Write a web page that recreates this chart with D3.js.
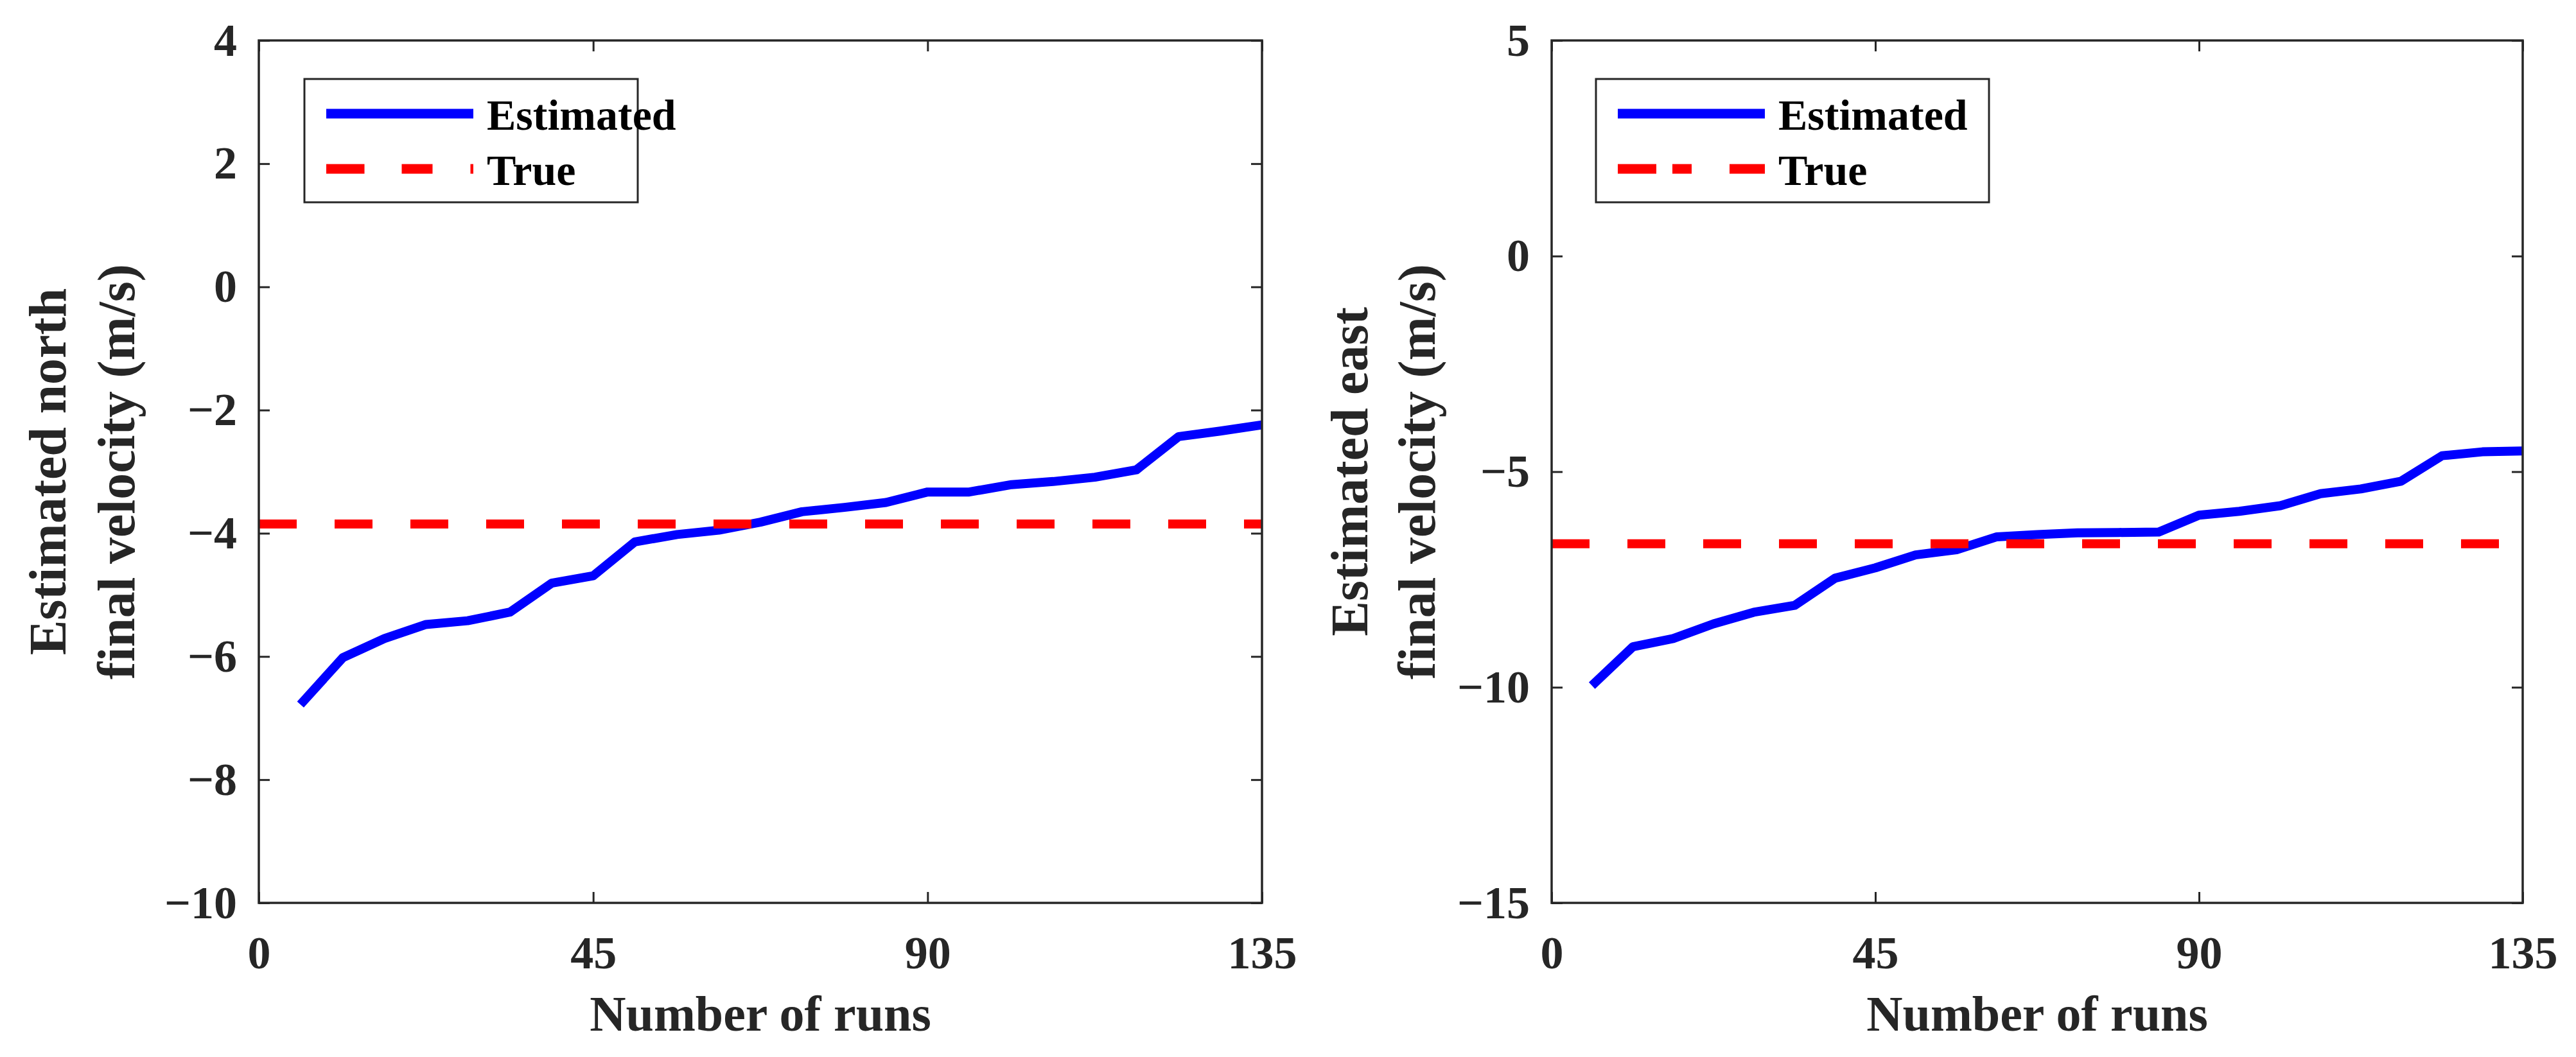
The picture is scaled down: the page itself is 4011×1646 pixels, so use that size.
<!DOCTYPE html>
<html>
<head>
<meta charset="utf-8">
<script src="https://cdn.jsdelivr.net/npm/d3@7"></script>
<style>
  html, body { margin: 0; padding: 0; background: #fff; }
  svg { display: block; }
  text { font-family: "Liberation Serif", "Times New Roman", serif; font-weight: bold; }
</style>
</head>
<body>
<svg id="chart" width="4011" height="1646"></svg>
<script>
// ---- data ----
const runs = [5.6, 11.3, 16.9, 22.5, 28.1, 33.8, 39.4, 45, 50.6, 56.3, 61.9, 67.5,
              73.1, 78.8, 84.4, 90, 95.6, 101.3, 106.9, 112.5, 118.1, 123.8, 129.4, 135];
const northEstimated = [-6.78, -6.02, -5.71, -5.48, -5.42, -5.28, -4.81, -4.69, -4.14, -4.02, -3.95, -3.82,
                        -3.65, -3.58, -3.50, -3.33, -3.33, -3.21, -3.16, -3.09, -2.97, -2.43, -2.34, -2.24];
const eastEstimated  = [-9.96, -9.06, -8.87, -8.53, -8.26, -8.10, -7.47, -7.23, -6.93, -6.81, -6.51, -6.46,
                        -6.42, -6.41, -6.40, -6.01, -5.92, -5.79, -5.51, -5.40, -5.22, -4.63, -4.54, -4.52];
const northTrue = -3.85;
const eastTrue = -6.67;
const xTicks = [0, 45, 90, 135];
const northTicks = [-10, -8, -6, -4, -2, 0, 2, 4];
const eastTicks = [-15, -10, -5, 0, 5];
const seriesNames = ["Estimated", "True"];

const svg = d3.select("#chart");
const axisColor = "#262626";
const plotTop = 63, plotBottom = 1406;

const panels = [
  { x0: 403, x1: 1965, yDomain: [-10, 4], yTicks: northTicks, est: northEstimated, truth: northTrue,
    ylabel: ["Estimated north", "final velocity (m/s)"], ylabX: [73, 180],
    legX: 474, legW: 519, legendDash: "59.5,58,48,59,5" },
  { x0: 2416, x1: 3928, yDomain: [-15, 5], yTicks: eastTicks, est: eastEstimated, truth: eastTrue,
    ylabel: ["Estimated east", "final velocity (m/s)"], ylabX: [2100, 2205],
    legX: 2485, legW: 612, legendDash: "60,25,30,59,56" }
];

panels.forEach(p => {
  const x = d3.scaleLinear().domain([0, 135]).range([p.x0, p.x1]);
  const y = d3.scaleLinear().domain(p.yDomain).range([plotBottom, plotTop]);
  const g = svg.append("g");

  const styleAxis = sel => {
    sel.select(".domain").remove();
    sel.selectAll(".tick line").attr("stroke", axisColor).attr("stroke-width", 3);
    sel.selectAll(".tick text").attr("fill", axisColor).style("font-size", "72px")
       .style("font-family", "'Liberation Serif', serif").style("font-weight", "bold");
  };
  g.append("g").attr("transform", `translate(0,${plotBottom})`)
    .call(d3.axisBottom(x).tickValues(xTicks).tickSizeInner(-17).tickSizeOuter(0).tickPadding(51))
    .call(styleAxis);
  g.append("g").attr("transform", `translate(0,${plotTop})`)
    .call(d3.axisTop(x).tickValues(xTicks).tickSizeInner(-17).tickSizeOuter(0).tickFormat(""))
    .call(styleAxis);
  g.append("g").attr("transform", `translate(${p.x0},0)`)
    .call(d3.axisLeft(y).tickValues(p.yTicks).tickSizeInner(-17).tickSizeOuter(0).tickPadding(34))
    .call(styleAxis);
  g.append("g").attr("transform", `translate(${p.x1},0)`)
    .call(d3.axisRight(y).tickValues(p.yTicks).tickSizeInner(-17).tickSizeOuter(0).tickFormat(""))
    .call(styleAxis);

  const line = d3.line().x((d, i) => x(runs[i])).y(d => y(d));
  g.append("path").datum(p.est)
    .attr("d", line).attr("fill", "none").attr("stroke", "#0000ff")
    .attr("stroke-width", 14).attr("stroke-linejoin", "round");
  g.append("line")
    .attr("x1", x(0)).attr("x2", x(135)).attr("y1", y(p.truth)).attr("y2", y(p.truth))
    .attr("stroke", "#ff0000").attr("stroke-width", 14).attr("stroke-dasharray", "59,59");

  g.append("rect").attr("x", p.x0).attr("y", plotTop).attr("width", p.x1 - p.x0).attr("height", plotBottom - plotTop)
    .attr("fill", "none").attr("stroke", axisColor).attr("stroke-width", 3.5);

  g.append("text").attr("x", (p.x0 + p.x1) / 2).attr("y", 1605).attr("text-anchor", "middle")
    .attr("fill", axisColor).style("font-size", "78px").text("Number of runs");

  p.ylabel.forEach((t, i) => {
    g.append("text")
      .attr("transform", `translate(${p.ylabX[i]},${(plotTop + plotBottom) / 2}) rotate(-90)`)
      .attr("text-anchor", "middle").attr("dy", "0.35em")
      .attr("fill", axisColor).style("font-size", "82px").text(t);
  });

  const lg = g.append("g");
  lg.append("rect").attr("x", p.legX).attr("y", 123).attr("width", p.legW).attr("height", 192)
    .attr("fill", "#fff").attr("stroke", axisColor).attr("stroke-width", 3);
  const rows = [177, 263];
  const lx0 = p.legX + 34, lx1 = p.legX + 263, tx = p.legX + 284;
  lg.append("line").attr("x1", lx0).attr("x2", lx1).attr("y1", rows[0]).attr("y2", rows[0])
    .attr("stroke", "#0000ff").attr("stroke-width", 15);
  lg.append("line").attr("x1", lx0).attr("x2", lx1).attr("y1", rows[1]).attr("y2", rows[1])
    .attr("stroke", "#ff0000").attr("stroke-width", 15).attr("stroke-dasharray", p.legendDash);
  seriesNames.forEach((n, i) => {
    lg.append("text").attr("x", tx).attr("y", rows[i] + 25).attr("fill", "#000")
      .style("font-size", "68px").text(n);
  });
});
</script>
</body>
</html>
